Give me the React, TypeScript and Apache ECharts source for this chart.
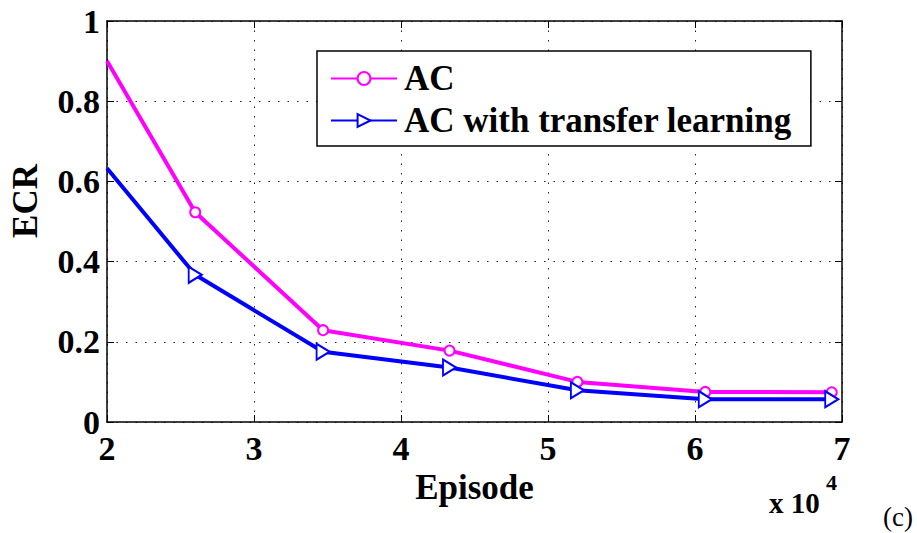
import React, { useEffect, useRef } from "react";
import * as echarts from "echarts";

const episodes = [2, 2.6, 3.47, 4.33, 5.2, 6.07, 6.93];
const acValues = [0.9, 0.523, 0.229, 0.178, 0.1, 0.075, 0.074];
const tlValues = [0.633, 0.367, 0.175, 0.136, 0.079, 0.057, 0.057];
const seriesNames = ["AC", "AC with transfer learning"];
const xTicks = [2, 3, 4, 5, 6, 7];
const yTicks = [0, 0.2, 0.4, 0.6, 0.8, 1];

const FONT = "'Liberation Serif', 'Times New Roman', serif";
const FS_TICK = 34;
const FS = 35;

function buildData(vals: number[]) {
  return vals.map((v, i) =>
    i === 0 ? { value: [episodes[i], v], symbol: "none" } : { value: [episodes[i], v] }
  );
}

export default function App() {
  const ref = useRef<HTMLDivElement>(null);
  useEffect(() => {
    if (!ref.current) return;
    const chart = echarts.init(ref.current, undefined, { renderer: "svg" });
    const grid = { left: 107, right: 75, top: 21, bottom: 111 };
    const splitLine = { show: true, lineStyle: { color: "#222", width: 1, type: [1.5, 8] as any } };
    const axisLine = { show: true, onZero: false, lineStyle: { color: "#000", width: 1.5 } };
    const axisTick = { show: true, inside: true, length: 7, lineStyle: { color: "#000", width: 1 } };
    const tickStyle = { color: "#000", fontFamily: FONT, fontWeight: "bold" as const, fontSize: FS_TICK };
    const labelStyle = { color: "#000", fontFamily: FONT, fontWeight: "bold" as const, fontSize: FS };
    chart.setOption({
      animation: false,
      grid,
      legend: {
        left: 317,
        top: 51,
        orient: "vertical",
        padding: [10, 19, 8, 13],
        itemGap: 7,
        itemWidth: 66,
        itemHeight: 16,
        backgroundColor: "#fff",
        borderColor: "#000",
        borderWidth: 1.5,
        borderRadius: 0,
        textStyle: { ...labelStyle, padding: [0, 0, 0, 2] },
        data: seriesNames,
      },
      xAxis: [
        {
          type: "value",
          min: xTicks[0],
          max: xTicks[xTicks.length - 1],
          interval: 1,
          position: "bottom",
          axisLine,
          axisTick,
          splitLine,
          axisLabel: { ...tickStyle, margin: 9 },
          name: "Episode",
          nameLocation: "middle",
          nameGap: 28,
          nameTextStyle: labelStyle,
        },
        {
          type: "value",
          min: xTicks[0],
          max: xTicks[xTicks.length - 1],
          interval: 1,
          position: "top",
          axisLine,
          axisTick,
          splitLine: { show: false },
          axisLabel: { show: false },
        },
      ],
      yAxis: [
        {
          type: "value",
          min: yTicks[0],
          max: yTicks[yTicks.length - 1],
          interval: 0.2,
          position: "left",
          axisLine,
          axisTick,
          splitLine,
          axisLabel: { ...tickStyle, margin: 7 },
        },
        {
          type: "value",
          min: yTicks[0],
          max: yTicks[yTicks.length - 1],
          interval: 0.2,
          position: "right",
          axisLine,
          axisTick,
          splitLine: { show: false },
          axisLabel: { show: false },
        },
      ],
      series: [
        {
          name: seriesNames[0],
          type: "line",
          data: buildData(acValues),
          symbol: "emptyCircle",
          symbolSize: 10,
          color: "#ff00ff",
          lineStyle: { color: "#ff00ff", width: 4 },
          itemStyle: { color: "#ff00ff", borderWidth: 3.5 },
          z: 3,
        },
        {
          name: seriesNames[1],
          type: "line",
          data: buildData(tlValues),
          symbol: "emptyTriangle",
          symbolSize: [16, 13],
          symbolRotate: -90,
          color: "#0000ff",
          lineStyle: { color: "#0000ff", width: 4 },
          itemStyle: { color: "#0000ff", borderWidth: 4 },
          z: 4,
        },
      ],
      graphic: [
        {
          type: "text",
          x: 25.5,
          y: 201,
          rotation: Math.PI / 2,
          style: {
            text: "ECR",
            align: "center",
            verticalAlign: "middle",
            fill: "#000",
            font: `bold ${FS}px ${FONT}`,
          },
        },
        {
          type: "text",
          x: 769,
          y: 503,
          style: {
            text: "x 10",
            align: "left",
            verticalAlign: "middle",
            fill: "#000",
            font: `bold 29px ${FONT}`,
          },
        },
        {
          type: "text",
          x: 826,
          y: 482,
          style: {
            text: "4",
            align: "left",
            verticalAlign: "middle",
            fill: "#000",
            font: `bold 22px ${FONT}`,
          },
        },
        {
          type: "text",
          x: 883,
          y: 517,
          style: {
            text: "(c)",
            align: "left",
            verticalAlign: "middle",
            fill: "#000",
            font: `27px ${FONT}`,
          },
        },
      ],
    });
    return () => chart.dispose();
  }, []);
  return (
    <div
      ref={ref}
      style={{ position: "absolute", left: 0, top: 0, width: 917, height: 533, background: "#fff" }}
    />
  );
}
